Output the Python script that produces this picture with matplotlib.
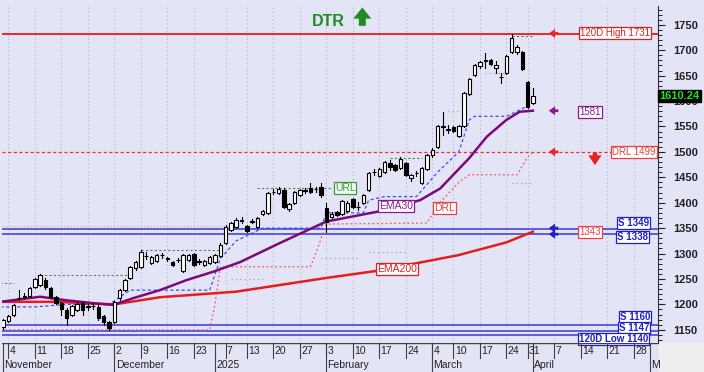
import numpy as np
import matplotlib.pyplot as plt
from matplotlib.patches import Rectangle

plt.rcParams['font.family'] = ['Liberation Sans', 'DejaVu Sans']

# daily candles, index 0 = 1 Nov 2024, index 100 = 1 Apr 2025
opens = [1156, 1168, 1180, 1212, 1215, 1217, 1235, 1238, 1248, 1232,
         1214, 1202, 1189, 1179, 1189, 1202, 1196, 1196, 1195, 1178,
         1165, 1166, 1212, 1228, 1251, 1271, 1274, 1296, 1281, 1285,
         1298, 1291, 1284, 1288, 1265, 1287, 1299, 1285, 1278, 1282,
         1284, 1295, 1320, 1346, 1353, 1365, 1354, 1363, 1353, 1378,
         1380, 1421, 1419, 1425, 1387, 1399, 1415, 1424, 1428, 1426,
         1430, 1389, 1372, 1381, 1378, 1384, 1408, 1391, 1399, 1425,
         1460, 1452, 1461, 1479, 1474, 1468, 1478, 1448, 1458, 1438,
         1466, 1494, 1510, 1549, 1544, 1548, 1531, 1550, 1614, 1652,
         1668, 1679, 1681, 1665, 1647, 1656, 1697, 1697, 1697, 1638,
         1597]
closes = [1169, 1177, 1199, 1213, 1216, 1232, 1249, 1258, 1234, 1215,
          1203, 1190, 1173, 1196, 1201, 1189, 1194, 1197, 1173, 1166,
          1154, 1205, 1228, 1247, 1274, 1284, 1304, 1295, 1293, 1297,
          1297, 1290, 1278, 1287, 1297, 1297, 1278, 1284, 1286, 1294,
          1297, 1317, 1353, 1360, 1366, 1366, 1345, 1364, 1369, 1383,
          1419, 1422, 1426, 1392, 1397, 1422, 1425, 1425, 1422, 1427,
          1415, 1363, 1378, 1375, 1404, 1400, 1392, 1392, 1415, 1459,
          1461, 1466, 1481, 1471, 1465, 1486, 1455, 1455, 1459, 1468,
          1494, 1504, 1550, 1550, 1545, 1541, 1550, 1615, 1643, 1671,
          1676, 1680, 1673, 1671, 1648, 1688, 1724, 1706, 1663, 1588,
          1610.24]
highs = [1172, 1180, 1201, 1228, 1222, 1234, 1251, 1260, 1252, 1235,
         1216, 1204, 1192, 1198, 1204, 1205, 1200, 1203, 1198, 1180,
         1168, 1207, 1230, 1249, 1276, 1286, 1306, 1303, 1296, 1299,
         1302, 1294, 1286, 1292, 1299, 1300, 1302, 1289, 1288, 1296,
         1299, 1320, 1356, 1362, 1369, 1372, 1356, 1367, 1371, 1385,
         1421, 1426, 1430, 1428, 1400, 1424, 1427, 1429, 1438, 1430,
         1438, 1399, 1381, 1383, 1406, 1404, 1410, 1402, 1417, 1461,
         1466, 1468, 1483, 1484, 1476, 1490, 1480, 1457, 1463, 1470,
         1496, 1507, 1553, 1579, 1552, 1550, 1552, 1617, 1645, 1673,
         1678, 1694, 1683, 1678, 1655, 1690, 1732, 1710, 1699, 1640,
         1625]
lows = [1152, 1165, 1178, 1208, 1212, 1215, 1233, 1236, 1230, 1213,
        1200, 1180, 1160, 1177, 1187, 1180, 1188, 1190, 1170, 1160,
        1150, 1163, 1208, 1226, 1249, 1268, 1272, 1290, 1279, 1283,
        1292, 1286, 1276, 1284, 1263, 1285, 1276, 1279, 1276, 1280,
        1282, 1293, 1318, 1344, 1351, 1360, 1343, 1360, 1351, 1376,
        1378, 1418, 1417, 1390, 1384, 1397, 1413, 1420, 1420, 1422,
        1412, 1343, 1369, 1373, 1375, 1381, 1390, 1385, 1397, 1423,
        1455, 1450, 1459, 1465, 1462, 1466, 1453, 1443, 1452, 1436,
        1464, 1490, 1507, 1533, 1538, 1539, 1529, 1548, 1612, 1650,
        1666, 1665, 1671, 1655, 1635, 1654, 1695, 1693, 1661, 1586,
        1594]

# indicator lines sampled at trading-day index
ema30_x = [-0.5, 7, 12, 18.3, 20.8, 24.5, 29.6, 34.7, 39.6, 44.7, 52.3, 61, 71, 78.7, 82.5, 88, 91.3, 95, 97.5, 100]
ema30_y = [1205, 1215, 1208, 1201, 1199, 1212, 1228, 1248, 1264, 1283, 1321, 1363, 1383, 1405, 1428, 1488, 1530, 1563, 1579, 1581]
ema200_x = [-0.5, 10, 21, 29.6, 44, 61, 70.6, 86, 95, 100]
ema200_y = [1205, 1205, 1200, 1214, 1225, 1252, 1266, 1297, 1322, 1343]
trail_x = [-0.5, 6, 12, 20, 24, 39, 41, 44, 49, 60, 61, 68, 69, 72, 78, 82, 86, 88, 89, 95, 99, 100]
trail_y = [1195, 1195, 1200, 1200, 1228, 1228, 1290, 1325, 1350, 1350, 1380, 1380, 1405, 1412, 1412, 1460, 1500, 1563, 1570, 1570, 1590, 1598]
drl_x = [-0.5, 39, 40, 41, 58, 59, 61, 80, 82, 86, 88, 97, 99, 100]
drl_y = [1150, 1150, 1200, 1274, 1274, 1300, 1358, 1360, 1395, 1440, 1455, 1455, 1490, 1499]
url_segs = [([-0.5, 2], 1242), ([7, 24], 1258), ([26, 41], 1306), ([48, 62], 1429),
            ([73, 79], 1488), ([96, 100], 1728)]
dot_segs = [([43, 49], 1250), ([60, 67], 1291), ([69, 76], 1303), ([84, 86], 1580),
            ([91, 95], 1655), ([96, 100], 1439)]
pink_x = [-0.5, 44]
pink_y = [1354, 1354]

# right-side levels
high120, low120 = 1731, 1140
drl_level = 1499
supports = [1349, 1338, 1160, 1147]
last_price = 1610.24

day_ticks = [1, 6, 11, 16, 21, 26, 31, 36, 42, 46, 51, 56, 61, 66, 71, 76, 81, 85, 90, 95, 99,
             104, 109, 114, 119]
day_labels = ['4', '11', '18', '25', '2', '9', '16', '23', '7', '13', '20', '27', '3', '10', '17',
              '24', '4', '10', '17', '24', '31', '7', '14', '21', '28']
month_ticks = [0, 21, 40, 61, 81, 100, 122]
month_labels = ['November', 'December', '2025', 'February', 'March', 'April', 'M']

W, H = 704, 372
bg = '#E4E4F7'
fig = plt.figure(figsize=(W / 100, H / 100), dpi=100, facecolor=bg)
ax = fig.add_axes([2 / W, (H - 343) / H, 656 / W, 337 / H], facecolor=bg)
dax = fig.add_axes([2 / W, 0, 656 / W, (H - 343) / H], facecolor='#ECECF4', sharex=ax)
corner = Rectangle((658 / W, 0), 46 / W, 29 / H, transform=fig.transFigure,
                   color='#EEEEEE', zorder=-5)
fig.patches.append(corner)

xmin, xmax = -0.2, 123.6
ax.set_xlim(xmin, xmax)
ax.set_ylim(1124, 1787)

for t in day_ticks:
    ax.axvline(t, color='#BABACC', lw=0.7, ls=(0, (1.5, 2.5)), zorder=0)

# horizontal levels
ax.axhline(high120, color='#E82828', lw=1.4, zorder=2)
ax.axhline(drl_level, color='#E83030', lw=0.9, ls=(0, (2.5, 2)), zorder=2)
for s in supports:
    ax.axhline(s, color='#3838D8', lw=1.1, zorder=2)
ax.axhline(low120, color='#3838D8', lw=1.1, zorder=2)

# stepped guide lines
ax.plot(pink_x, pink_y, color='#E890A8', lw=0.8, ls=(0, (1, 2)), zorder=2)
for xs, lev in url_segs:
    ax.plot(xs, [lev, lev], color='#4C8C4C', lw=0.8, ls=(0, (2, 2)), zorder=2)
for xs, lev in dot_segs:
    ax.plot(xs, [lev, lev], color='#A8A0B8', lw=0.9, ls=(0, (1, 2.5)), zorder=2)
ax.plot(drl_x, drl_y, color='#F05A5A', lw=0.9, ls=(0, (1.5, 2)), zorder=2)
ax.plot(trail_x, trail_y, color='#4050E0', lw=0.9, ls=(0, (2.5, 2)), zorder=2)
ax.plot(ema200_x, ema200_y, color='#E41E1E', lw=1.8, zorder=3)
ax.plot(ema30_x, ema30_y, color='#7A0A7A', lw=1.8, zorder=3)

# candles
idx = np.arange(len(closes))
for i in idx:
    o, c, h, l = opens[i], closes[i], highs[i], lows[i]
    ax.plot([i, i], [l, h], color='black', lw=0.8, zorder=4)
    up = c >= o
    body = max(abs(c - o), 0.8)
    ax.add_patch(Rectangle((i - 0.33, min(o, c)), 0.66, body,
                           facecolor='white' if up else 'black', edgecolor='black',
                           lw=0.8, zorder=5))

# labels on the chart
def tag(x, y, s, col, size=7, face='white', weight='normal'):
    ax.text(x, y, s, color=col, fontsize=size, ha='left', va='center', weight=weight, zorder=7,
            bbox=dict(boxstyle='square,pad=0.1', facecolor=face, edgecolor=col, lw=0.9))

tag(62.6, 1429, 'URL', '#3A9A3A', size=7.5, face='#F2FFF2')
tag(70.9, 1394, 'EMA30', '#8A1A8A', size=7.5)
tag(81.4, 1389, 'DRL', '#E84040', size=7.5)
tag(70.5, 1269, 'EMA200', '#E02020', size=7.5)
tag(108.8, 1733, '120D High 1731', '#E02020')
tag(115.0, 1500, 'DRL 1499', '#E84040')
tag(108.7, 1579, '1581', '#8A1A8A')
tag(108.7, 1342, '1343', '#F04040')
tag(116.0, 1360, 'S 1349', '#2020C8', weight='bold')
tag(115.8, 1333, 'S 1338', '#2020C8', weight='bold')
tag(116.4, 1175, 'S 1160', '#2020C8', weight='bold')
tag(116.2, 1153, 'S 1147', '#2020C8', weight='bold')
tag(108.7, 1131, '120D Low 1140', '#2020C8', weight='bold')

small = dict(arrowstyle='simple,head_width=0.65,head_length=0.45,tail_width=0.2',
             mutation_scale=10, shrinkA=0, shrinkB=0, lw=0)
for lev, col in [(1733, '#E82828'), (1581, '#8A1A8A'), (1500, '#E82828'),
                 (1350, '#2020C8'), (1338, '#2020C8')]:
    ax.annotate('', xy=(103.0, lev), xytext=(104.8, lev),
                arrowprops=dict(color=col, **small), zorder=8)
ax.annotate('', xy=(111.7, 1474), xytext=(111.7, 1499),
            arrowprops=dict(color='#E82020', arrowstyle='simple,head_width=0.95,head_length=0.7,'
                            'tail_width=0.32', mutation_scale=10, shrinkA=0, shrinkB=0, lw=0),
            zorder=8)

ax.text(61.3, 1757, 'DTR', color='#1E8C1E', fontsize=11.5, weight='bold', ha='center',
        va='center')
ax.annotate('', xy=(67.8, 1784), xytext=(67.8, 1748),
            arrowprops=dict(color='#1E8C1E', arrowstyle='simple,head_width=1.3,head_length=0.8,'
                            'tail_width=0.5', mutation_scale=10, shrinkA=0, shrinkB=0, lw=0))

# right axis
ax.yaxis.tick_right()
ax.set_yticks(np.arange(1150, 1751, 50))
ax.set_yticks(np.arange(1130, 1781, 10), minor=True)
ax.tick_params(axis='y', which='major', length=5, width=0.8, pad=6, labelsize=8,
               colors='#202020', right=True, labelright=True, left=False, labelleft=False)
ax.tick_params(axis='y', which='minor', length=3, width=0.6, right=True, left=False)
for lab in ax.get_yticklabels():
    lab.set_fontweight('bold')
ax.tick_params(axis='x', which='both', bottom=False, labelbottom=False)
for side in ['top', 'left', 'bottom']:
    ax.spines[side].set_visible(False)
ax.spines['right'].set_color('#303030')

ax.text(1.002, last_price, '1610.24', transform=ax.get_yaxis_transform(), color='#20E020',
        fontsize=8, weight='bold', ha='left', va='center', zorder=9, clip_on=False,
        bbox=dict(boxstyle='square,pad=0.12', facecolor='black', edgecolor='black'))

# date axis
dax.set_ylim(0, 1)
dax.axis('off')
dax.axhline(1, color='#404040', lw=1.0)
for t, s in zip(day_ticks, day_labels):
    dax.plot([t, t], [0.5, 1], color='#404040', lw=0.8)
    dax.text(t + 0.25, 0.74, s, fontsize=7.5, ha='left', va='center', color='#202020')
for t, s in zip(month_ticks, month_labels):
    dax.plot([t, t], [0, 1], color='#404040', lw=0.8)
    dax.text(t + 0.25, 0.24, s, fontsize=7.5, ha='left', va='center', color='#202020')
dax.plot([xmax, xmax], [0, 1], color='#404040', lw=0.8)

fig.savefig('out.png', dpi=100, facecolor=fig.get_facecolor())
